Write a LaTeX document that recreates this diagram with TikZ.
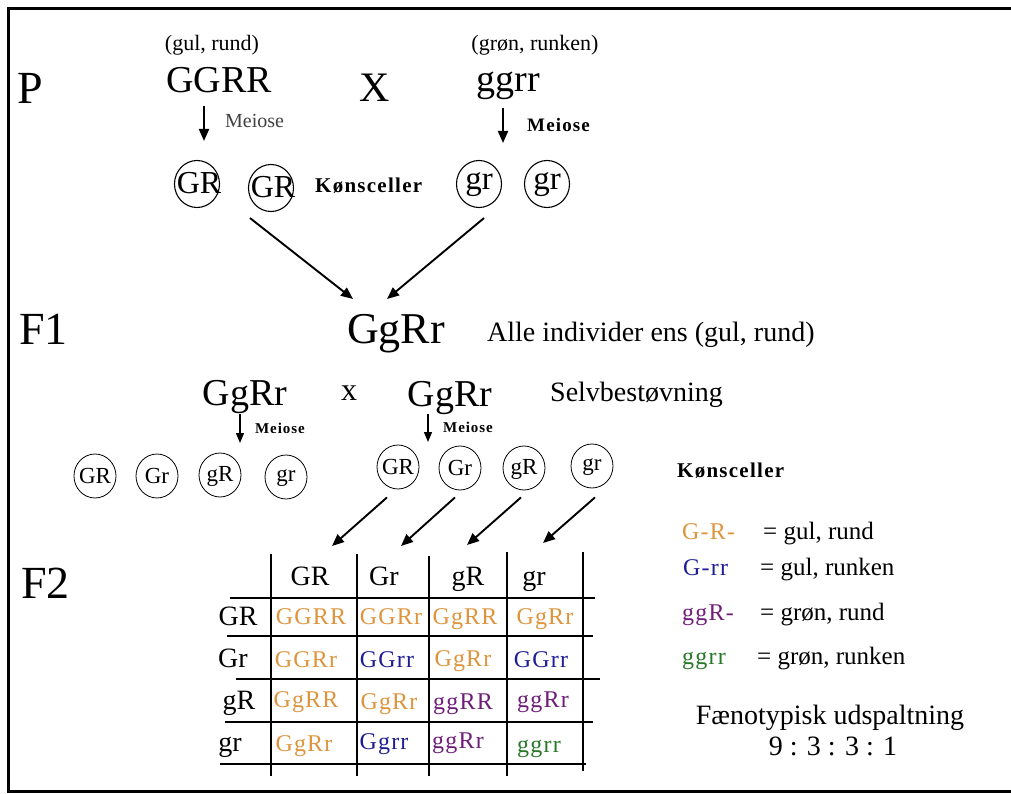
\documentclass[tikz,border=0pt]{standalone}
\usepackage{fontspec}
\setmainfont{Liberation Serif}
\usetikzlibrary{arrows.meta,shapes.geometric,calc}
\definecolor{cor}{RGB}{222,148,60}
\definecolor{cbl}{RGB}{30,30,150}
\definecolor{cpu}{RGB}{110,30,120}
\definecolor{cgr}{RGB}{40,120,40}
\newfontfamily\spacedfont[LetterSpace=5]{Liberation Serif}
\newfontfamily\boldspaced[LetterSpace=6]{Liberation Serif Bold}
\newcommand{\fsz}[1]{\fontsize{#1}{#1}\selectfont}
% centred text of zero size, baseline lowered by #2 below the node centre
\newcommand{\ctext}[3][0pt]{\makebox[0pt]{\hspace*{#1}\raisebox{-#2}[0pt][0pt]{#3}}}
\begin{document}
\begin{tikzpicture}[x=1pt,y=-1pt,
  txt/.style={inner sep=0pt,anchor=base},
  txtl/.style={inner sep=0pt,anchor=base west},
  arr/.style={line width=1.9pt,-{Triangle[length=12pt,width=10pt]}},
  arrs/.style={line width=1.3pt,-{Triangle[length=10pt,width=8pt]}},
  gamA/.style={draw,ellipse,line width=1.1pt,inner sep=0pt,minimum width=45pt,minimum height=47pt},
  gamB/.style={draw,ellipse,line width=0.8pt,inner sep=0pt,minimum width=42pt,minimum height=44pt,font=\fsz{23}},
  grid/.style={line width=2.2pt},
  cell/.style={inner sep=0pt,anchor=base,font=\spacedfont\fsz{24}},
  hdr/.style={inner sep=0pt,anchor=base,font=\fsz{28}}
]
\useasboundingbox (0,0) rectangle (1011,794);
% frame
\draw[line width=3pt] (1015,9) -- (8,9) -- (8,791) -- (1015,791);

% ---- P generation
\node[txtl,font=\fsz{46}] (P) at (17,104) {P};
\node[txt,font=\fsz{22}] (pl1) at (212,51) {(gul, rund)};
\node[txt,font=\fsz{38}] (pA) at (219,93) {GGRR};
\node[txt,font=\fsz{42}] (px) at (375,102) {X};
\node[txt,font=\fsz{22}] (pl2) at (535,51) {(grøn, runken)};
\node[txt,font=\fsz{38}] (pB) at (508,92) {ggrr};

\coordinate (mA) at (204,141);
\coordinate (mB) at (503,143);
\draw[arr] (204,106) -- (mA);
\draw[arr] (503,108) -- (mB);
\node[txtl,font=\fsz{20},text=black!75] (meA) at (225,128) {Meiose};
\node[txtl,font=\boldspaced\bfseries\fsz{19}] (meB) at (527,132) {Meiose};

\node[gamA,font=\fsz{32}] (ga1) at (197,184) {\ctext[4pt]{10pt}{GR}};
\node[gamA,font=\fsz{32}] (ga2) at (271,188) {\ctext[4pt]{10pt}{GR}};
\node[txtl,font=\boldspaced\fsz{21}] (kA) at (315,193) {Kønsceller};
\node[gamA,font=\fsz{33}] (gb1) at (479,184) {\ctext{6pt}{gr}};
\node[gamA,font=\fsz{33}] (gb2) at (547,184) {\ctext{6pt}{gr}};

% ---- F1
\node[txtl,font=\fsz{46}] (F1) at (19,344) {F1};
\node[txt,font=\fsz{44}] (f1) at (396,343) {GgRr};
\node[txtl,font=\fsz{28}] (alle) at (487,341) {Alle individer ens (gul, rund)};
\coordinate (t1) at (353,299);
\coordinate (t2) at (387,299);
\draw[arr] ($(ga2.south)+(-21,6)$) -- (t1);
\draw[arr] ($(gb1.south)+(5,10)$) -- (t2);

\node[txt,font=\fsz{38}] (s1) at (245,405) {GgRr};
\node[txt,font=\fsz{32}] (sx) at (349,400) {x};
\node[txt,font=\fsz{38}] (s2) at (450,406) {GgRr};
\node[txtl,font=\fsz{28}] (selv) at (550,401) {Selvbestøvning};

\coordinate (m1) at (240,443);
\coordinate (m2) at (428,442);
\draw[arrs] (240,414) -- (m1);
\draw[arrs] (428,414) -- (m2);
\node[txtl,font=\boldspaced\fsz{15}] (me1) at (255,433) {Meiose};
\node[txtl,font=\boldspaced\fsz{15}] (me2) at (443,432) {Meiose};

\node[gamB] (c1) at (95,476) {\ctext{7.5pt}{GR}};
\node[gamB] (c2) at (157,476) {\ctext{7.5pt}{Gr}};
\node[gamB] (c3) at (220,475) {\ctext{6pt}{gR}};
\node[gamB] (c4) at (286,477) {\ctext{4pt}{gr}};
\node[gamB] (d1) at (398,467) {\ctext{7.5pt}{GR}};
\node[gamB] (d2) at (460,468) {\ctext{7.5pt}{Gr}};
\node[gamB] (d3) at (524,468) {\ctext{6pt}{gR}};
\node[gamB] (d4) at (592,466) {\ctext{4pt}{gr}};
\node[txtl,font=\boldspaced\fsz{21}] (kB) at (677,477) {Kønsceller};

% ---- F2
\node[txtl,font=\fsz{46}] (F2) at (21,598) {F2};
\coordinate (h1) at (332,546);
\coordinate (h2) at (401,546);
\coordinate (h3) at (467,545);
\coordinate (h4) at (543,543);
\draw[arr] ($(d1.south)+(-11,8)$) -- (h1);
\draw[arr] ($(d2.south)+(-5,7)$) -- (h2);
\draw[arr] ($(d3.south)+(-3,7)$) -- (h3);
\draw[arr] ($(d4.south)+(3,9)$) -- (h4);

% grid lines
\draw[grid] (271,554) -- (271,776);
\draw[grid] (357,554) -- (357,776);
\draw[grid] (429,556) -- (429,776);
\draw[grid] (507,552) -- (507,776);
\draw[grid] (583,552) -- (583,771);
\draw[grid] (230,598) -- (595,598);
\draw[grid] (227,636) -- (593,636);
\draw[grid] (236,679) -- (600,679);
\draw[grid] (225,722) -- (593,722);
\draw[grid] (220,764) -- (586,764);

% headers
\node[hdr] (hGR) at (310,585) {GR};
\node[hdr] (hGr) at (384,585) {Gr};
\node[hdr] (hgR) at (468,585) {gR};
\node[hdr] (hgr) at (534,585) {gr};
\node[hdr] (rGR) at (238,625) {GR};
\node[hdr] (rGr) at (233,667) {Gr};
\node[hdr] (rgR) at (239,709) {gR};
\node[hdr] (rgr) at (230,751) {gr};

% cells
\node[cell,text=cor] (a11) at (311,624) {GGRR};
\node[cell,text=cor] (a12) at (391,624) {GGRr};
\node[cell,text=cor] (a13) at (465,624) {GgRR};
\node[cell,text=cor] (a14) at (545,624) {GgRr};
\node[cell,text=cor] (a21) at (306,667) {GGRr};
\node[cell,text=cbl] (a22) at (387,667) {GGrr};
\node[cell,text=cor] (a23) at (463,666) {GgRr};
\node[cell,text=cbl] (a24) at (541,667) {GGrr};
\node[cell,text=cor] (a31) at (306,707) {GgRR};
\node[cell,text=cor] (a32) at (389,709) {GgRr};
\node[cell,text=cpu] (a33) at (463,709) {ggRR};
\node[cell,text=cpu] (a34) at (543,707) {ggRr};
\node[cell,text=cor] (a41) at (304,751) {GgRr};
\node[cell,text=cbl] (a42) at (384,749) {Ggrr};
\node[cell,text=cpu] (a43) at (458,748) {ggRr};
\node[cell,text=cgr] (a44) at (539,752) {ggrr};

% legend
\node[txtl,font=\spacedfont\fsz{24},text=cor] (l1) at (682,539) {G-R-};
\node[txtl,font=\fsz{25}] (l1t) at (763,539) {= gul, rund};
\node[txtl,font=\spacedfont\fsz{24},text=cbl] (l2) at (683,575) {G-rr};
\node[txtl,font=\fsz{25}] (l2t) at (760,575) {= gul, runken};
\node[txtl,font=\spacedfont\fsz{24},text=cpu] (l3) at (682,620) {ggR-};
\node[txtl,font=\fsz{25}] (l3t) at (760,620) {= grøn, rund};
\node[txtl,font=\spacedfont\fsz{24},text=cgr] (l4) at (682,664) {ggrr};
\node[txtl,font=\fsz{25}] (l4t) at (757,664) {= grøn, runken};

\node[txt,font=\fsz{28}] (fen) at (830,724) {Fænotypisk udspaltning};
\node[txt,font=\fsz{28}] (rat) at (833,755) {9 : 3 : 3 : 1};
\end{tikzpicture}
\end{document}
